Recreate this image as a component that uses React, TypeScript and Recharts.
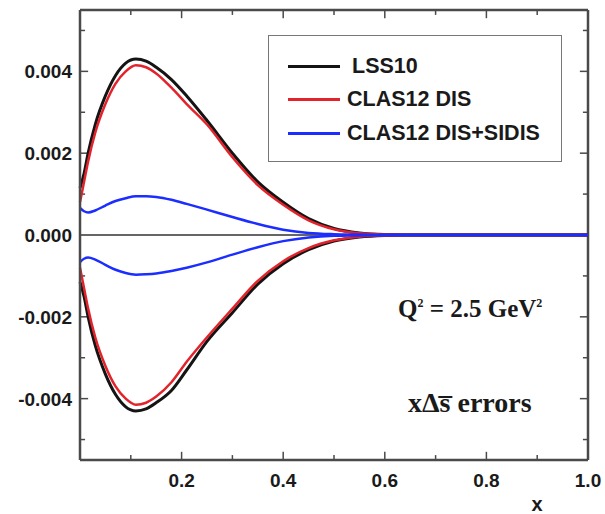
import { LineChart, Line, XAxis, YAxis, ReferenceLine, Legend, Customized } from 'recharts';

// x grid shared by all bands
const xGrid = [0, 0.008, 0.016, 0.03, 0.05, 0.07, 0.09, 0.11, 0.13, 0.15, 0.18, 0.21, 0.25, 0.3, 0.35, 0.4, 0.45, 0.5, 0.55, 0.6, 0.65, 0.7, 0.8, 0.9, 1.0];

// error band edges (upper / lower)
const lss10Upper = [0.00115, 0.0015, 0.002, 0.0027, 0.0034, 0.0039, 0.0042, 0.0043, 0.00425, 0.0041, 0.0038, 0.0034, 0.0028, 0.002, 0.0013, 0.0008, 0.0004, 0.00016, 0.00005, 0.00001, 0, 0, 0, 0, 0];
const lss10Lower = [-0.00115, -0.0015, -0.002, -0.0027, -0.0034, -0.0039, -0.0042, -0.0043, -0.00425, -0.0041, -0.0038, -0.0033, -0.0026, -0.0019, -0.0012, -0.0007, -0.00036, -0.00015, -0.00005, -0.00001, 0, 0, 0, 0, 0];
const disUpper = [0.0008, 0.0013, 0.0018, 0.0025, 0.0032, 0.0037, 0.004, 0.00415, 0.0041, 0.00395, 0.0036, 0.0032, 0.0027, 0.0019, 0.00122, 0.00074, 0.00036, 0.00014, 0.00004, 0.00001, 0, 0, 0, 0, 0];
const disLower = [-0.0008, -0.0013, -0.0018, -0.0025, -0.0032, -0.0037, -0.004, -0.00415, -0.0041, -0.00395, -0.0036, -0.0031, -0.0025, -0.0018, -0.00112, -0.00064, -0.00032, -0.00013, -0.00004, -0.00001, 0, 0, 0, 0, 0];
const sidisUpper = [0.00066, 0.00058, 0.00055, 0.0006, 0.00072, 0.00083, 0.0009, 0.00095, 0.00095, 0.00093, 0.00086, 0.00076, 0.00062, 0.00044, 0.00027, 0.00013, 0.00005, 0.00002, 0.00001, 0, 0, 0, 0, 0, 0];
const sidisLower = [-0.00066, -0.00058, -0.00055, -0.0006, -0.00073, -0.00085, -0.00093, -0.00097, -0.00096, -0.00094, -0.00088, -0.0008, -0.00067, -0.00048, -0.0003, -0.00015, -0.00006, -0.00002, -0.00001, 0, 0, 0, 0, 0, 0];

const seriesNames = ['LSS10', 'CLAS12 DIS', 'CLAS12 DIS+SIDIS'];

const xTicks = [0, 0.1, 0.2, 0.3, 0.4, 0.5, 0.6, 0.7, 0.8, 0.9, 1.0];
const yTicks = [-0.005, -0.004, -0.003, -0.002, -0.001, 0, 0.001, 0.002, 0.003, 0.004, 0.005];

const X_MAX = 1;
const Y_MAX = 0.0055;

// inward tick lengths in axis units (~8px major, ~5px minor)
const X_TICK_LEN = { major: 0.0002, minor: 0.00012 }; // vertical ticks on top/bottom
const Y_TICK_LEN = { major: 0.016, minor: 0.01 }; // horizontal ticks on left/right

const BLACK = '#141414';
const RED = '#e3232b';
const BLUE = '#1c2dff';
const AXIS = '#4a4a4a';
const TICK_FONT = '"Liberation Sans", Arial, sans-serif';
const SERIF = '"Liberation Serif", "Times New Roman", serif';

const chartData = xGrid.map((x, i) => ({
  x,
  lssUp: lss10Upper[i],
  lssLo: lss10Lower[i],
  disUp: disUpper[i],
  disLo: disLower[i],
  sidisUp: sidisUpper[i],
  sidisLo: sidisLower[i],
}));

const isMajorX = (v: number) => Math.round(v * 10) % 2 === 0;
const isMajorY = (v: number) => Math.round(v * 1000) % 2 === 0;

function BottomLabel({ x, y, payload }: any) {
  const v = payload.value;
  if (!isMajorX(v) || v === 0) return <g />;
  return (
    <text x={x} y={y + 27} textAnchor="middle" fontFamily={TICK_FONT} fontWeight="bold" fontSize={19} fill="#1a1a1a">
      {v.toFixed(1)}
    </text>
  );
}

function LeftLabel({ x, y, payload }: any) {
  const v = payload.value;
  if (!isMajorY(v) || Math.abs(v) >= 0.005) return <g />;
  return (
    <text x={x - 8} y={y + 7} textAnchor="end" fontFamily={TICK_FONT} fontWeight="bold" fontSize={19} fill="#1a1a1a">
      {v.toFixed(3)}
    </text>
  );
}

function LegendBox({ payload }: any) {
  // only the three named series, in plotting order
  const items = (payload || [])
    .filter((p: any) => seriesNames.includes(p.value))
    .sort((a: any, b: any) => seriesNames.indexOf(a.value) - seriesNames.indexOf(b.value));
  return (
    <div
      style={{
        width: 294,
        height: 127,
        border: '1.5px solid #777',
        boxSizing: 'border-box',
        position: 'relative',
        background: '#fff',
      }}
    >
      {items.map((p: any, i: number) => (
        <div
          key={p.value}
          style={{
            position: 'absolute',
            left: 19,
            top: 30 + i * 33.5 - 14,
            height: 28,
            display: 'flex',
            alignItems: 'center',
            whiteSpace: 'nowrap',
          }}
        >
          <span style={{ display: 'inline-block', width: 52, height: 0, borderTop: `3px solid ${p.color}` }} />
          <span
            style={{
              marginLeft: i === 0 ? 12 : 7,
              fontFamily: TICK_FONT,
              fontWeight: 'bold',
              fontSize: 21.5,
              color: '#1a1a1a',
            }}
          >
            {p.value}
          </span>
        </div>
      ))}
    </div>
  );
}

function Annotations() {
  return (
    <g fontFamily={SERIF} fontWeight="bold" fill="#1a1a1a">
      <text x={398} y={317} fontSize={25}>
        Q<tspan dy={-10} fontSize={12}>2</tspan>
        <tspan dy={10}> = 2.5 GeV</tspan>
        <tspan dy={-10} fontSize={12}>2</tspan>
      </text>
      <text x={408} y={412} fontSize={28}>
        xΔs̅ errors
      </text>
      <text x={537} y={511} textAnchor="middle" fontFamily={TICK_FONT} fontSize={20}>
        x
      </text>
    </g>
  );
}

export default function App() {
  return (
    <div style={{ position: 'absolute', left: 0, top: 0, background: '#fff' }}>
      <LineChart width={605} height={514} data={chartData} margin={{ top: 10, right: 17, left: 0, bottom: 0 }}>
        <XAxis
          dataKey="x"
          type="number"
          domain={[0, X_MAX]}
          ticks={xTicks}
          height={54}
          tickSize={0}
          tickMargin={0}
          tickLine={false}
          axisLine={{ stroke: AXIS, strokeWidth: 2.5 }}
          tick={<BottomLabel />}
          interval={0}
        />
        <YAxis
          type="number"
          domain={[-Y_MAX, Y_MAX]}
          ticks={yTicks}
          width={80}
          tickSize={0}
          tickMargin={0}
          tickLine={false}
          axisLine={{ stroke: AXIS, strokeWidth: 2.5 }}
          tick={<LeftLabel />}
          interval={0}
          allowDataOverflow
        />
        {/* frame: top and right edges */}
        <ReferenceLine y={Y_MAX} stroke={AXIS} strokeWidth={2.5} />
        <ReferenceLine x={X_MAX} stroke={AXIS} strokeWidth={2.5} />
        {/* inward ticks on all four sides */}
        {xTicks.map((t) => {
          const len = isMajorX(t) ? X_TICK_LEN.major : X_TICK_LEN.minor;
          return [
            <ReferenceLine key={`b-${t}`} segment={[{ x: t, y: -Y_MAX }, { x: t, y: -Y_MAX + len }]} stroke={AXIS} strokeWidth={1.5} />,
            <ReferenceLine key={`t-${t}`} segment={[{ x: t, y: Y_MAX }, { x: t, y: Y_MAX - len }]} stroke={AXIS} strokeWidth={1.5} />,
          ];
        })}
        {yTicks.map((t) => {
          const len = isMajorY(t) ? Y_TICK_LEN.major : Y_TICK_LEN.minor;
          return [
            <ReferenceLine key={`l-${t}`} segment={[{ x: 0, y: t }, { x: len, y: t }]} stroke={AXIS} strokeWidth={1.5} />,
            <ReferenceLine key={`r-${t}`} segment={[{ x: X_MAX, y: t }, { x: X_MAX - len, y: t }]} stroke={AXIS} strokeWidth={1.5} />,
          ];
        })}
        <ReferenceLine y={0} stroke="#666" strokeWidth={2} />
        <Line type="monotone" dataKey="lssUp" name="LSS10" stroke={BLACK} strokeWidth={3} dot={false} isAnimationActive={false} />
        <Line type="monotone" dataKey="lssLo" name="LSS10 lower" legendType="none" stroke={BLACK} strokeWidth={3} dot={false} isAnimationActive={false} />
        <Line type="monotone" dataKey="disUp" name="CLAS12 DIS" stroke={RED} strokeWidth={2.5} dot={false} isAnimationActive={false} />
        <Line type="monotone" dataKey="disLo" name="CLAS12 DIS lower" legendType="none" stroke={RED} strokeWidth={2.5} dot={false} isAnimationActive={false} />
        <Line type="monotone" dataKey="sidisUp" name="CLAS12 DIS+SIDIS" stroke={BLUE} strokeWidth={2.5} dot={false} isAnimationActive={false} />
        <Line type="monotone" dataKey="sidisLo" name="CLAS12 DIS+SIDIS lower" legendType="none" stroke={BLUE} strokeWidth={2.5} dot={false} isAnimationActive={false} />
        <Legend
          layout="vertical"
          align="center"
          verticalAlign="middle"
          content={<LegendBox />}
          wrapperStyle={{ left: 268, top: 35, width: 294, height: 127 }}
        />
        <Customized component={Annotations} />
      </LineChart>
    </div>
  );
}
